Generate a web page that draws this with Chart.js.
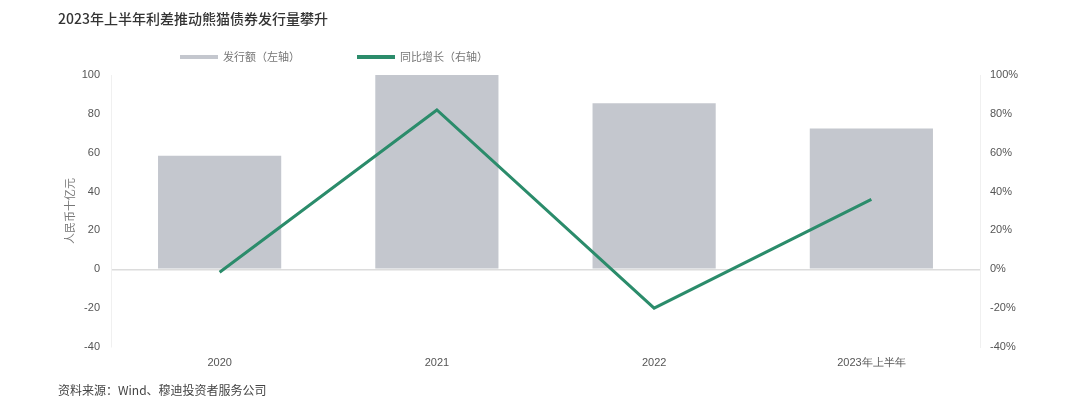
<!DOCTYPE html>
<html>
<head>
<meta charset="utf-8">
<script src="https://cdn.jsdelivr.net/npm/chart.js@4/dist/chart.umd.min.js"></script>
<style>
  html, body { margin: 0; padding: 0; background: #fff; }
  #wrap { width: 1080px; height: 419px; position: relative; }
</style>
</head>
<body>
<div id="wrap"><canvas id="panda"></canvas></div>
<script>
// data
const categories = ['2020', '2021', '2022', '2023年上半年'];
const issuance = [58.5, 100, 85.5, 72.5];      // 人民币十亿元
const yoyGrowth = [-1.5, 82, -20, 36];          // %
const leftTicks = [-40, 100, 20];               // min, max, step
const rightTicks = [-40, 100, 20];

const titleText = '2023年上半年利差推动熊猫债券发行量攀升';
const sourceText = '资料来源：Wind、穆迪投资者服务公司';

const barColor = '#c4c7ce';
const lineColor = '#2b8c6b';
const cjk = '"Noto Sans CJK SC", "Noto Sans", sans-serif';
const latin = '"Liberation Sans", Arial, sans-serif';

// title, legend and source note drawn on the canvas
const decorations = {
    id: 'decorations',
    afterDraw(chart) {
        const ctx = chart.ctx;
        ctx.save();
        ctx.textBaseline = 'middle';
        ctx.textAlign = 'left';

        ctx.fillStyle = '#333';
        ctx.font = '500 14px ' + cjk;
        ctx.fillText(titleText, 58, 19);

        // legend
        const items = [
            { x: 180, color: barColor, text: chart.data.datasets[0].label },
            { x: 357, color: lineColor, text: chart.data.datasets[1].label }
        ];
        items.forEach(it => {
            ctx.strokeStyle = it.color;
            ctx.lineWidth = 4;
            ctx.beginPath();
            ctx.moveTo(it.x, 57);
            ctx.lineTo(it.x + 38, 57);
            ctx.stroke();
            ctx.fillStyle = '#777';
            ctx.font = '11px ' + cjk;
            ctx.fillText(it.text, it.x + 43, 57);
        });

        ctx.fillStyle = '#444';
        ctx.font = '12px ' + cjk;
        ctx.fillText(sourceText, 58, 390);
        ctx.restore();
    }
};

new Chart(document.getElementById('panda'), {
    data: {
        labels: categories,
        datasets: [
            {
                type: 'bar',
                label: '发行额（左轴）',
                data: issuance,
                yAxisID: 'y',
                backgroundColor: barColor,
                categoryPercentage: 1,
                barPercentage: 0.567,
                order: 1
            },
            {
                type: 'line',
                label: '同比增长（右轴）',
                data: yoyGrowth,
                yAxisID: 'y2',
                borderColor: lineColor,
                borderWidth: 3,
                pointRadius: 0,
                tension: 0,
                order: 0
            }
        ]
    },
    options: {
        responsive: true,
        maintainAspectRatio: false,
        animation: false,
        layout: { padding: { top: 75, bottom: 42, left: 0, right: 0 } },
        plugins: {
            legend: { display: false },
            tooltip: { enabled: false }
        },
        scales: {
            x: {
                grid: { display: false, drawTicks: false },
                border: { display: false },
                ticks: {
                    padding: 9,
                    color: '#555',
                    font: { family: latin, size: 11 },
                    maxRotation: 0
                },
                afterFit(scale) { scale.height = 30; }
            },
            y: {
                position: 'left',
                min: leftTicks[0],
                max: leftTicks[1],
                ticks: {
                    stepSize: leftTicks[2],
                    padding: 11,
                    color: '#555',
                    font: { family: latin, size: 11 }
                },
                grid: {
                    drawTicks: false,
                    color: ctx => ctx.tick && ctx.tick.value === 0 ? '#dcdcdc' : 'rgba(0,0,0,0)',
                    lineWidth: 1.5
                },
                border: { color: '#f0f0f0' },
                title: {
                    display: true,
                    text: '人民币十亿元',
                    color: '#777',
                    font: { family: cjk, size: 11 },
                    padding: { top: 63, bottom: 0 }
                },
                afterFit(scale) { scale.width = 111; }
            },
            y2: {
                position: 'right',
                min: rightTicks[0],
                max: rightTicks[1],
                ticks: {
                    stepSize: rightTicks[2],
                    padding: 10,
                    color: '#555',
                    font: { family: latin, size: 11 },
                    callback: v => v + '%'
                },
                grid: { display: false, drawTicks: false },
                border: { color: '#f0f0f0' },
                afterFit(scale) { scale.width = 100; }
            }
        }
    },
    plugins: [decorations]
});
</script>
</body>
</html>
